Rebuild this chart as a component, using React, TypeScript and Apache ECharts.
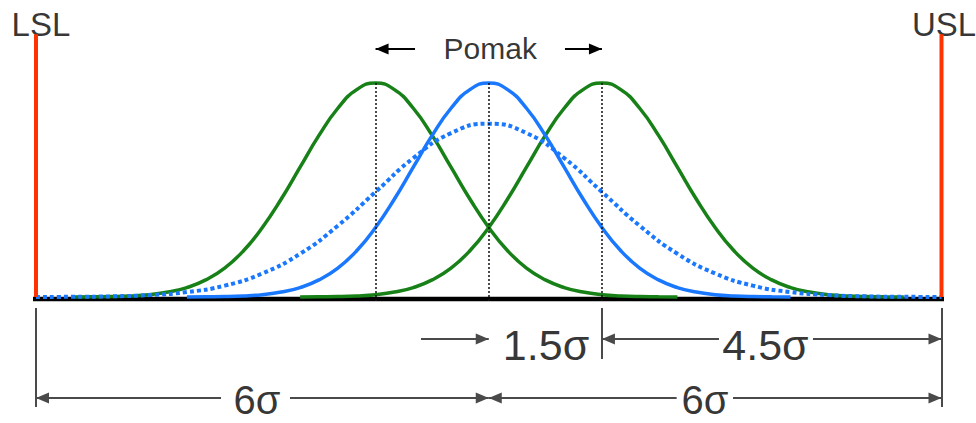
import { useEffect, useRef } from "react";
import * as echarts from "echarts";

// ---- Data (x in sigma units, y relative to the peak height of the short-term curve) ----
const SPEC_LIMITS = [-6, 6];
const SPEC_NAMES = ["LSL", "USL"];
const SHIFT_MEANS = [-1.5, 0, 1.5];

// short-term process, centred
const centeredCurve: [number, number][] = [
  [-4, 0], [-3.75, 0.001], [-3.5, 0.002], [-3.25, 0.005], [-3, 0.011], [-2.75, 0.023], [-2.5, 0.044],
  [-2.25, 0.08], [-2, 0.135], [-1.75, 0.216], [-1.5, 0.325], [-1.25, 0.458], [-1, 0.607], [-0.75, 0.755],
  [-0.5, 0.882], [-0.25, 0.969], [0, 1], [0.25, 0.969], [0.5, 0.882], [0.75, 0.755], [1, 0.607],
  [1.25, 0.458], [1.5, 0.325], [1.75, 0.216], [2, 0.135], [2.25, 0.08], [2.5, 0.044], [2.75, 0.023],
  [3, 0.011], [3.25, 0.005], [3.5, 0.002], [3.75, 0.001], [4, 0],
];

// process shifted 1.5 sigma to the left
const leftShiftCurve: [number, number][] = [
  [-5.5, 0], [-5.25, 0.001], [-5, 0.002], [-4.75, 0.005], [-4.5, 0.011], [-4.25, 0.023], [-4, 0.044],
  [-3.75, 0.08], [-3.5, 0.135], [-3.25, 0.216], [-3, 0.325], [-2.75, 0.458], [-2.5, 0.607], [-2.25, 0.755],
  [-2, 0.882], [-1.75, 0.969], [-1.5, 1], [-1.25, 0.969], [-1, 0.882], [-0.75, 0.755], [-0.5, 0.607],
  [-0.25, 0.458], [0, 0.325], [0.25, 0.216], [0.5, 0.135], [0.75, 0.08], [1, 0.044], [1.25, 0.023],
  [1.5, 0.011], [1.75, 0.005], [2, 0.002], [2.25, 0.001], [2.5, 0],
];

// process shifted 1.5 sigma to the right
const rightShiftCurve: [number, number][] = [
  [-2.5, 0], [-2.25, 0.001], [-2, 0.002], [-1.75, 0.005], [-1.5, 0.011], [-1.25, 0.023], [-1, 0.044],
  [-0.75, 0.08], [-0.5, 0.135], [-0.25, 0.216], [0, 0.325], [0.25, 0.458], [0.5, 0.607], [0.75, 0.755],
  [1, 0.882], [1.25, 0.969], [1.5, 1], [1.75, 0.969], [2, 0.882], [2.25, 0.755], [2.5, 0.607],
  [2.75, 0.458], [3, 0.325], [3.25, 0.216], [3.5, 0.135], [3.75, 0.08], [4, 0.044], [4.25, 0.023],
  [4.5, 0.011], [4.75, 0.005], [5, 0.002], [5.25, 0.001], [5.5, 0],
];

// long-term (wider) distribution, dotted
const longTermCurve: [number, number][] = [
  [-6, 0], [-5.5, 0.001], [-5, 0.003], [-4.5, 0.009], [-4, 0.023], [-3.5, 0.053], [-3, 0.11],
  [-2.5, 0.202], [-2, 0.333], [-1.5, 0.491], [-1, 0.649], [-0.5, 0.766], [0, 0.81], [0.5, 0.766],
  [1, 0.649], [1.5, 0.491], [2, 0.333], [2.5, 0.202], [3, 0.11], [3.5, 0.053], [4, 0.023],
  [4.5, 0.009], [5, 0.003], [5.5, 0.001], [6, 0],
];

// baseline (axis) extent
const baselineData: [number, number][] = [[-6.36, -0.009], [6.46, -0.009]];

// annotation texts
const SHIFT_LABEL = "Pomak";
const DIMENSION_LABELS = ["1.5σ", "4.5σ", "6σ", "6σ"];

// ---- layout of annotations (in data units) ----
const SPEC_TOP = 1.228;
const SPEC_LABEL_Y = 1.275;
const SHIFT_ROW_Y = 1.159;
const UPPER_ROW_Y = -0.196;
const LOWER_ROW_Y = -0.472;
const EXT_TOP = -0.051;

const FONT = "Arial, 'Liberation Sans', Helvetica, sans-serif";
const GREEN = "#178017";
const BLUE = "#1a78ff";
const RED = "#ff3300";
const DIM = "#4a4a4a";
const HEAD: [number, number] = [11, 13];

function seg(x1: number, y1: number, x2: number, y2: number, headFrom: boolean, headTo: boolean, color: string, width: number, type: any = "solid") {
  const ls = { color, width, type };
  return [
    { coord: [x1, y1], symbol: headFrom ? "triangle" : "none", symbolSize: HEAD, symbolOffset: [0, HEAD[1] / 2], lineStyle: ls },
    { coord: [x2, y2], symbol: headTo ? "triangle" : "none", symbolSize: HEAD, symbolOffset: [0, HEAD[1] / 2], lineStyle: ls },
  ];
}

export default function App() {
  const ref = useRef<HTMLDivElement>(null);

  useEffect(() => {
    if (!ref.current) return;
    const chart = echarts.init(ref.current, null, { renderer: "svg" });

    const markLines: any[] = [];
    // dotted verticals at each mean
    SHIFT_MEANS.forEach((m) => markLines.push(seg(m, 1, m, -0.02, false, false, "#111", 1.5, [2, 2])));
    // shift arrows
    markLines.push(seg(-0.977, SHIFT_ROW_Y, SHIFT_MEANS[0], SHIFT_ROW_Y, false, true, "#000", 2));
    markLines.push(seg(1.01, SHIFT_ROW_Y, SHIFT_MEANS[2], SHIFT_ROW_Y, false, true, "#000", 2));
    // extension lines
    markLines.push(seg(SPEC_LIMITS[0], EXT_TOP, SPEC_LIMITS[0], -0.514, false, false, DIM, 2));
    markLines.push(seg(0, EXT_TOP, 0, -0.561, false, false, DIM, 2));
    markLines.push(seg(SHIFT_MEANS[2], EXT_TOP, SHIFT_MEANS[2], -0.29, false, false, DIM, 2));
    markLines.push(seg(SPEC_LIMITS[1], EXT_TOP, SPEC_LIMITS[1], -0.514, false, false, DIM, 2));
    // upper dimension row
    markLines.push(seg(-0.898, UPPER_ROW_Y, 0, UPPER_ROW_Y, false, true, DIM, 2));
    markLines.push(seg(SHIFT_MEANS[2], UPPER_ROW_Y, 3.051, UPPER_ROW_Y, true, false, DIM, 2));
    markLines.push(seg(4.297, UPPER_ROW_Y, SPEC_LIMITS[1], UPPER_ROW_Y, false, true, DIM, 2));
    // lower dimension row
    markLines.push(seg(SPEC_LIMITS[0], LOWER_ROW_Y, -3.548, LOWER_ROW_Y, true, false, DIM, 2));
    markLines.push(seg(-2.634, LOWER_ROW_Y, 0, LOWER_ROW_Y, false, true, DIM, 2));
    markLines.push(seg(0, LOWER_ROW_Y, 2.49, LOWER_ROW_Y, true, false, DIM, 2));
    markLines.push(seg(3.237, LOWER_ROW_Y, SPEC_LIMITS[1], LOWER_ROW_Y, false, true, DIM, 2));

    const textData = [
      { name: SPEC_NAMES[0], value: [-5.934, SPEC_LABEL_Y], label: { fontSize: 33 } },
      { name: SPEC_NAMES[1], value: [6.033, SPEC_LABEL_Y], label: { fontSize: 33 } },
      { name: SHIFT_LABEL, value: [0.02, 1.163], label: { fontSize: 30 } },
      { name: DIMENSION_LABELS[0], value: [0.759, -0.222], label: { fontSize: 43 } },
      { name: DIMENSION_LABELS[1], value: [3.667, -0.222], label: { fontSize: 43 } },
      { name: DIMENSION_LABELS[2], value: [-3.071, -0.482], label: { fontSize: 40 } },
      { name: DIMENSION_LABELS[3], value: [2.866, -0.482], label: { fontSize: 40 } },
    ];

    const curve = (data: [number, number][], color: string, extra: any = {}) => ({
      type: "line",
      data,
      smooth: 0.5,
      symbol: "none",
      clip: false,
      silent: true,
      lineStyle: { color, width: 3.5, ...extra },
    });

    chart.setOption({
      animation: false,
      backgroundColor: "#fff",
      grid: { left: 36, right: 34.5, top: 18.8, bottom: 8.3 },
      xAxis: { type: "value", min: -6, max: 6, show: false },
      yAxis: { type: "value", min: -0.55, max: 1.3, show: false },
      series: [
        {
          type: "line",
          data: baselineData,
          symbol: "none",
          clip: false,
          silent: true,
          lineStyle: { color: "#000", width: 4.5 },
          markLine: {
            silent: true,
            animation: false,
            label: { show: false },
            emphasis: { disabled: true },
            data: markLines,
          },
        },
        curve(leftShiftCurve, GREEN),
        curve(rightShiftCurve, GREEN),
        curve(centeredCurve, BLUE),
        curve(longTermCurve, BLUE, { type: [4, 3], width: 4, cap: "butt" }),
        ...SPEC_LIMITS.map((x) => ({
          type: "line",
          data: [[x, 0], [x, SPEC_TOP]],
          symbol: "none",
          clip: false,
          silent: true,
          lineStyle: { color: RED, width: 4 },
        })),
        {
          type: "scatter",
          data: textData,
          symbolSize: 0,
          clip: false,
          silent: true,
          label: {
            show: true,
            position: "inside",
            formatter: "{b}",
            color: "#000",
            fontFamily: FONT,
          },
        },
      ],
    });

    return () => chart.dispose();
  }, []);

  return (
    <div
      ref={ref}
      style={{ position: "absolute", left: 0, top: 0, width: 976, height: 423, background: "#fff" }}
    />
  );
}
